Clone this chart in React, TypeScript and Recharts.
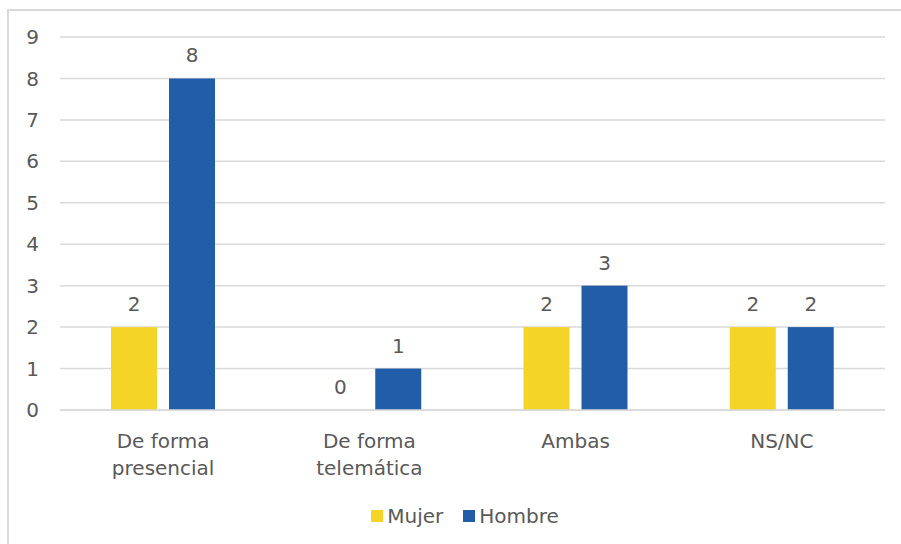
import React from "react";
import { BarChart, Bar, XAxis, YAxis, CartesianGrid } from "recharts";

const categories = ["De forma presencial", "De forma telemática", "Ambas", "NS/NC"];
const mujer = [2, 0, 2, 2];
const hombre = [8, 1, 3, 2];
const yTicks = [0, 1, 2, 3, 4, 5, 6, 7, 8, 9];

const data = categories.map((name, i) => ({ name, Mujer: mujer[i], Hombre: hombre[i] }));

const FONT = "'DejaVu Sans', sans-serif";
const TEXT = "#595959";
const GRID = "#d9d9d9";
const YELLOW = "#f4d426";
const BLUE = "#225da8";

function splitLabel(s: string): string[] {
  if (s.length <= 10) return [s];
  const i = s.lastIndexOf(" ");
  return [s.slice(0, i), s.slice(i + 1)];
}

const CategoryTick = (props: any) => {
  const { x, payload } = props;
  const lines = splitLabel(payload.value);
  return (
    <text textAnchor="middle" fill={TEXT} fontSize={20} fontFamily={FONT}>
      {lines.map((l, i) => (
        <tspan key={i} x={x} y={448 + i * 27}>
          {l}
        </tspan>
      ))}
    </text>
  );
};

// bar rect plus its value label, so a zero bar still gets its "0"
const makeShape = (key: string) => (props: any) => {
  const { x, y, width, height, fill, payload } = props;
  const value = payload ? payload[key] : props.value;
  return (
    <g>
      {height > 0 && <rect x={x} y={y} width={width} height={height} fill={fill} />}
      <text
        x={Number(x) + Number(width) / 2}
        y={Number(y) - 16}
        textAnchor="middle"
        fill={TEXT}
        fontSize={20}
        fontFamily={FONT}
      >
        {value}
      </text>
    </g>
  );
};

export default function App() {
  return (
    <div style={{ position: "relative", width: 901, height: 544, overflow: "hidden", background: "#fff" }}>
      <style>{"body{margin:0}"}</style>
      <div
        style={{
          position: "absolute",
          left: 7,
          top: 9,
          width: 920,
          height: 560,
          borderTop: `2px solid ${GRID}`,
          borderLeft: `2px solid ${GRID}`,
        }}
      />
      <div style={{ position: "absolute", left: 0, top: 0 }}>
        <BarChart
          width={901}
          height={544}
          data={data}
          margin={{ top: 37, right: 16, left: 0, bottom: 0 }}
          barGap={12}
          barCategoryGap={51}
        >
          <CartesianGrid vertical={false} stroke={GRID} strokeWidth={1.5} />
          <XAxis
            dataKey="name"
            interval={0}
            tickLine={false}
            axisLine={{ stroke: GRID, strokeWidth: 1.5 }}
            tick={<CategoryTick />}
            height={134}
          />
          <YAxis
            width={60}
            domain={[0, 9]}
            ticks={yTicks}
            interval={0}
            tickLine={false}
            axisLine={false}
            tickSize={0}
            tickMargin={21}
            tick={{ fill: TEXT, fontSize: 20, fontFamily: FONT }}
          />
          <Bar dataKey="Mujer" fill={YELLOW} isAnimationActive={false} shape={makeShape("Mujer")} />
          <Bar dataKey="Hombre" fill={BLUE} isAnimationActive={false} shape={makeShape("Hombre")} />
        </BarChart>
      </div>
      <div
        style={{
          position: "absolute",
          top: 504,
          left: 0,
          width: 930,
          display: "flex",
          justifyContent: "center",
          alignItems: "center",
          fontFamily: FONT,
          fontSize: 20,
          color: TEXT,
        }}
      >
        {[
          { name: "Mujer", color: YELLOW },
          { name: "Hombre", color: BLUE },
        ].map((s) => (
          <div key={s.name} style={{ display: "flex", alignItems: "center", margin: "0 10px" }}>
            <span style={{ display: "inline-block", width: 12, height: 12, background: s.color, marginRight: 4 }} />
            <span>{s.name}</span>
          </div>
        ))}
      </div>
    </div>
  );
}
